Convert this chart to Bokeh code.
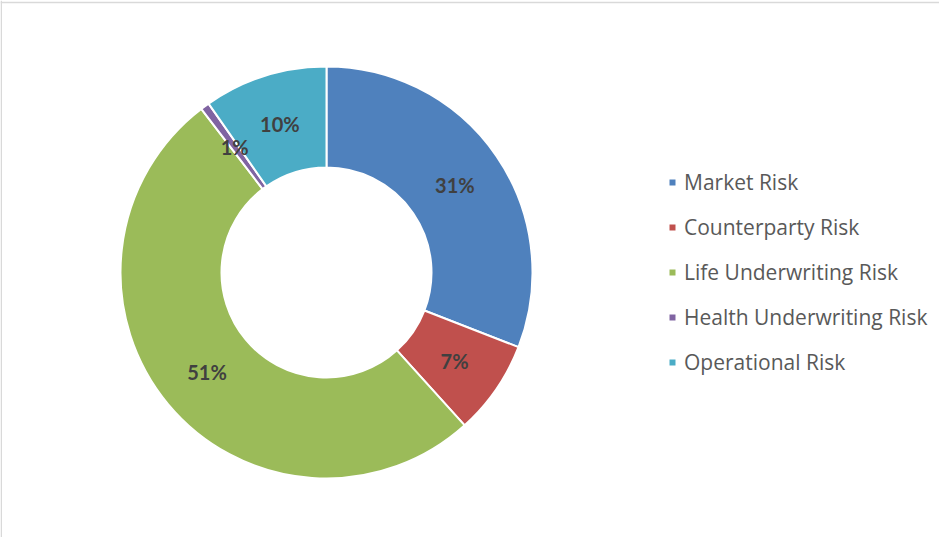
import math
from bokeh.plotting import figure
from bokeh.models import Range1d, Legend, LegendItem, Span, ColumnDataSource
from bokeh.embed import file_html
from bokeh.resources import INLINE

# ---- data ----
categories = ["Market Risk", "Counterparty Risk", "Life Underwriting Risk",
              "Health Underwriting Risk", "Operational Risk"]
shares = [30.9, 7.4, 51.3, 0.7, 9.7]
labels = ["31%", "7%", "51%", "1%", "10%"]
colors = ["#4F81BD", "#C0504D", "#9BBB59", "#8064A2", "#4BACC6"]

W, H = 939, 537
CX, CY = 326, 265
R_IN, R_OUT = 105, 206

total = sum(shares)
starts, ends, lx, ly = [], [], [], []
cum = 0.0
for s in shares:
    a0 = math.pi / 2 - 2 * math.pi * cum / total
    cum += s
    a1 = math.pi / 2 - 2 * math.pi * cum / total
    starts.append(a0)
    ends.append(a1)
    mid = (a0 + a1) / 2
    r = (R_IN + R_OUT) / 2
    lx.append(CX + r * math.cos(mid))
    ly.append(CY + r * math.sin(mid))

src = ColumnDataSource(dict(cat=categories, start=starts, end=ends, color=colors,
                            lx=lx, ly=ly, lab=labels))

p = figure(width=W, height=H, x_range=Range1d(0, W), y_range=Range1d(0, H),
           output_backend="svg", toolbar_location=None, title=None,
           min_border=0, outline_line_color=None, background_fill_color="white")
p.axis.visible = False
p.grid.visible = False

wr = p.annular_wedge(x=CX, y=CY, inner_radius=R_IN, outer_radius=R_OUT,
                     start_angle="start", end_angle="end", direction="clock",
                     fill_color="color", line_color="white", line_width=2, source=src)

p.text(x="lx", y="ly", text="lab", source=src, text_align="center",
       text_baseline="middle", text_font_size="20px", text_font_style="bold",
       text_color="#404040", text_font={"value": "Lato"})

p.add_layout(Span(location=H - 2, dimension="width", line_color="#d9d9d9", line_width=1.5))
p.add_layout(Span(location=0.75, dimension="height", line_color="#d9d9d9", line_width=1.5))

items = [LegendItem(label=c, renderers=[wr], index=i) for i, c in enumerate(categories)]
legend = Legend(items=items, location=(667, 161), orientation="vertical",
                glyph_width=10, glyph_height=10, label_standoff=7, spacing=17,
                padding=0, margin=0, border_line_color=None, background_fill_alpha=0,
                label_text_font="Open Sans", label_text_font_size="21px",
                label_text_color="#595959")
p.add_layout(legend, "center")

open("out.html", "w").write(file_html(p, INLINE))
